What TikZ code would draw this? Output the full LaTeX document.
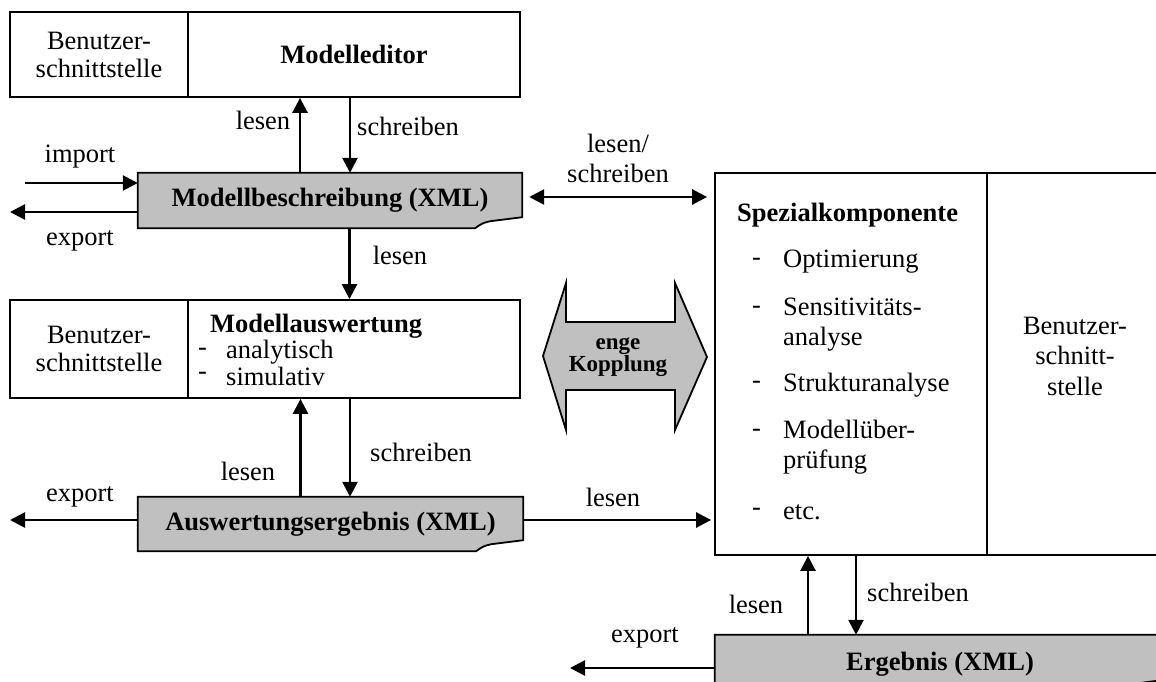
\documentclass[tikz,border=0pt]{standalone}
\usepackage{fontspec}
\setmainfont{Liberation Serif}
\usetikzlibrary{arrows.meta,calc}
\pgfdeclarelayer{background}
\pgfsetlayers{background,main}
\definecolor{docgray}{RGB}{192,192,192}
\newcommand\txtfs{\fontsize{26.5}{30}\selectfont}
\newcommand\docshape[1]{%
  \begin{pgfonlayer}{background}
    \draw[docline] (#1.north west) -- (#1.north east) -- ([yshift=11pt]#1.south east)
      -- ([xshift=-32pt,yshift=7pt]#1.south east)
      .. controls ([xshift=-40pt,yshift=5pt]#1.south east) .. ([xshift=-47pt]#1.south east)
      -- (#1.south west) -- cycle;
  \end{pgfonlayer}}
\tikzset{
  box/.style={draw, line width=1.8pt, inner sep=0pt, align=center, font=\txtfs},
  doc/.style={inner sep=0pt, align=center, font=\txtfs\bfseries},
  docline/.style={draw, line width=1.8pt, fill=docgray, line join=miter},
  lbl/.style={inner sep=0pt, align=center, font=\txtfs},
  itm/.style={inner sep=0pt, anchor=west, align=left, font=\txtfs},
  arr/.style={line width=2.6pt, -{Triangle[length=15pt,width=15pt]}},
  darr/.style={line width=2.6pt, {Triangle[length=15pt,width=15pt]}-{Triangle[length=15pt,width=15pt]}},
}
\begin{document}
\begin{tikzpicture}[x=1pt,y=-1pt]
\clip (0,0) rectangle (1156,682);

% Modelleditor
\node[box, minimum width=178pt, minimum height=85pt, font=\fontsize{26.5}{28}\selectfont] (bs1) at (99,54.5) {Benutzer-\\schnittstelle};
\node[box, minimum width=332pt, minimum height=85pt, font=\txtfs\bfseries] (ed) at (354,54.5) {Modelleditor};

% Modellbeschreibung
\node[doc, minimum width=384pt, minimum height=55pt] (mb) at (330,200.5) {Modellbeschreibung (XML)};
\docshape{mb}

% Modellauswertung
\node[box, minimum width=178pt, minimum height=98pt, font=\fontsize{26.5}{28}\selectfont] (bs2) at (99,349) {Benutzer-\\schnittstelle};
\node[box, minimum width=332pt, minimum height=98pt] (ma) at (354,349) {};
\node[lbl, font=\txtfs\bfseries] (mat) at (316,326) {Modellauswertung};
\node[itm] (ma1) at (198,352) {-};
\node[itm] (ma1t) at (226,352) {analytisch};
\node[itm] (ma2) at (198,376) {-};
\node[itm] (ma2t) at (226,376) {simulativ};

% Auswertungsergebnis
\node[doc, minimum width=385pt, minimum height=54pt] (ae) at (330.5,524) {Auswertungsergebnis (XML)};
\docshape{ae}

% Spezialkomponente
\node[box, minimum width=272pt, minimum height=382pt] (sk) at (851,364) {};
\node[box, minimum width=176pt, minimum height=382pt] (bs3) at (1075,364) {};
\node[lbl, font=\fontsize{26.5}{30.5}\selectfont] (bs3t) at (1075,356) {Benutzer-\\schnitt-\\stelle};
\node[itm, font=\txtfs\bfseries] (skt) at (737,215) {Spezialkomponente};
\node[itm] (s1) at (752,262) {-};
\node[itm] (s1t) at (783,262) {Optimierung};
\node[itm] (s2) at (752,310) {-};
\node[itm] (s2t) at (783,324.5) {Sensitivitäts-\\analyse};
\node[itm] (s3) at (752,385) {-};
\node[itm] (s3t) at (783,385) {Strukturanalyse};
\node[itm] (s4) at (752,433) {-};
\node[itm] (s4t) at (783,447.5) {Modellüber-\\prüfung};
\node[itm] (s5) at (752,512) {-};
\node[itm] (s5t) at (783,512) {etc.};

% Ergebnis
\node[doc, minimum width=455pt, minimum height=55pt] (erg) at (942.5,662.5) {};
\docshape{erg}
\node[lbl, font=\txtfs\bfseries] (ergt) at (940,664) {Ergebnis (XML)};

% enge Kopplung
\node[lbl, font=\fontsize{23}{21}\selectfont\bfseries] (ek) at (618,357) {enge\\Kopplung};
\begin{pgfonlayer}{background}
\draw[docline] (543,356) -- (566,283) -- (566,322) -- (675,322) -- (675,283) -- (707,357)
  -- (675,430) -- (675,390) -- (566,390) -- (566,430) -- cycle;
\end{pgfonlayer}

% free ends
\coordinate (imp) at (25,183);
\coordinate (exp1) at (10,212);
\coordinate (rw) at (0,197);
\coordinate (exp2) at (10,520);
\coordinate (exp3) at (570,668);

% connectors
\draw[arr] ([xshift=-30pt]mb.north) -- ([xshift=-30pt]mb.north |- ed.south);
\draw[arr] ([xshift=20pt]mb.north |- ed.south) -- ([xshift=20pt]mb.north);
\draw[arr] (imp) -- (imp -| mb.west);
\draw[arr] (exp1 -| mb.west) -- (exp1);
\draw[darr, shorten <=7pt, shorten >=7pt] (rw -| mb.east) -- (rw -| sk.west);
\draw[arr] ([xshift=19.5pt]mb.south) -- ([xshift=19.5pt]mb.south |- ma.north);
\draw[arr] ([xshift=-30pt]ae.north) -- ([xshift=-30pt]ae.north |- ma.south);
\draw[arr] ([xshift=19.5pt]ae.north |- ma.south) -- ([xshift=19.5pt]ae.north);
\draw[arr] (exp2 -| ae.west) -- (exp2);
\draw[arr, shorten >=3pt] (exp2 -| ae.east) -- (exp2 -| sk.west);
\draw[arr] ([xshift=-43pt]sk.south |- erg.north) -- ([xshift=-43pt]sk.south);
\draw[arr] ([xshift=5pt]sk.south) -- ([xshift=5pt]sk.south |- erg.north);
\draw[arr] (exp3 -| erg.west) -- (exp3);

% labels
\node[lbl] (l1) at (263,120) {lesen};
\node[lbl] (l2) at (408,126) {schreiben};
\node[lbl] (l3) at (80,157) {import};
\node[lbl] (l4) at (80,241) {export};
\node[lbl] (l5) at (618,158) {lesen/\\schreiben};
\node[lbl] (l6) at (400,255) {lesen};
\node[lbl] (l7) at (248,471) {lesen};
\node[lbl] (l8) at (421,452) {schreiben};
\node[lbl] (l9) at (80,497) {export};
\node[lbl] (l10) at (613,497) {lesen};
\node[lbl] (l11) at (756,604) {lesen};
\node[lbl] (l12) at (918,592) {schreiben};
\node[lbl] (l13) at (645,638) {export};
\end{tikzpicture}
\end{document}
